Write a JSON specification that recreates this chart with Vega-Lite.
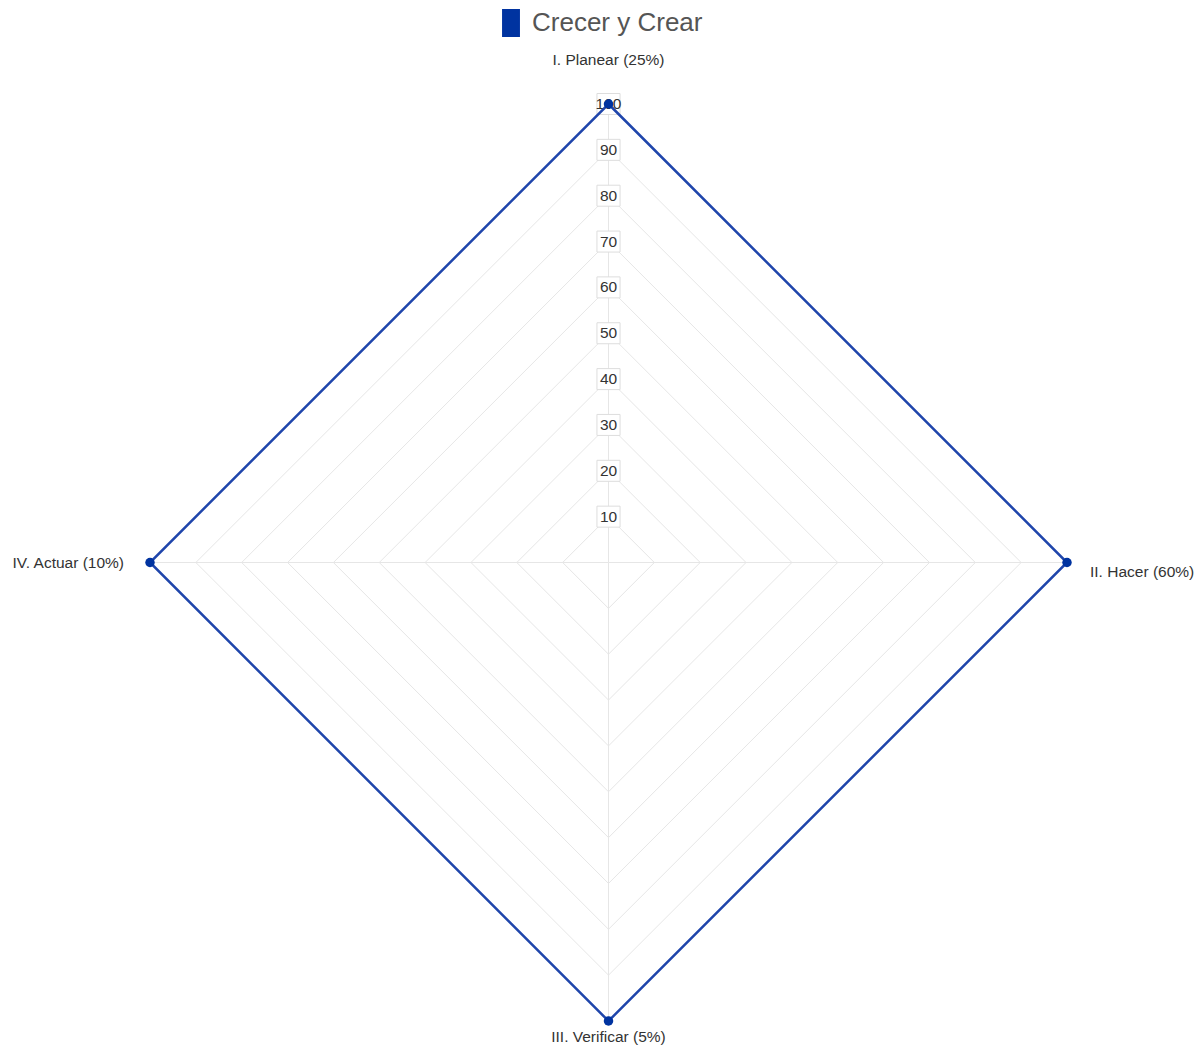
{
  "$schema": "https://vega.github.io/schema/vega-lite/v6.json",
  "width": 917,
  "height": 917,
  "autosize": {"type": "none"},
  "padding": {"left": 150, "top": 104, "right": 137, "bottom": 27},
  "background": "white",
  "config": {"view": {"stroke": null}, "font": "Liberation Sans"},
  "datasets": {
    "axes": [
      {"axis": "I. Planear (25%)", "k": 0, "value": 100, "serie": "Crecer y Crear"},
      {"axis": "II. Hacer (60%)", "k": 1, "value": 100, "serie": "Crecer y Crear"},
      {"axis": "III. Verificar (5%)", "k": 2, "value": 100, "serie": "Crecer y Crear"},
      {"axis": "IV. Actuar (10%)", "k": 3, "value": 100, "serie": "Crecer y Crear"}
    ],
    "levels": [
      {"level": 10}, {"level": 20}, {"level": 30}, {"level": 40}, {"level": 50},
      {"level": 60}, {"level": 70}, {"level": 80}, {"level": 90}, {"level": 100}
    ]
  },
  "layer": [
    {
      "data": {"name": "levels"},
      "transform": [
        {"calculate": "[0,1,2,3]", "as": "ks"},
        {"flatten": ["ks"], "as": ["k"]},
        {"calculate": "datum.level * sin(datum.k * PI / 2)", "as": "gx"},
        {"calculate": "datum.level * cos(datum.k * PI / 2)", "as": "gy"}
      ],
      "mark": {"type": "line", "interpolate": "linear-closed", "stroke": "#e6e6e6", "strokeWidth": 1},
      "encoding": {
        "x": {"field": "gx", "type": "quantitative", "scale": {"domain": [-100, 100], "nice": false, "zero": false}, "axis": null},
        "y": {"field": "gy", "type": "quantitative", "scale": {"domain": [-100, 100], "nice": false, "zero": false}, "axis": null},
        "detail": {"field": "level", "type": "nominal"},
        "order": {"field": "k", "type": "quantitative"}
      }
    },
    {
      "data": {"name": "axes"},
      "transform": [
        {"calculate": "datum.value * sin(datum.k * PI / 2)", "as": "px"},
        {"calculate": "datum.value * cos(datum.k * PI / 2)", "as": "py"},
        {"calculate": "0", "as": "zero"}
      ],
      "mark": {"type": "rule", "stroke": "#e6e6e6", "strokeWidth": 1},
      "encoding": {
        "x": {"field": "zero", "type": "quantitative"},
        "y": {"field": "zero", "type": "quantitative"},
        "x2": {"field": "px"},
        "y2": {"field": "py"}
      }
    },
    {
      "data": {"name": "levels"},
      "transform": [{"calculate": "0", "as": "zero"}],
      "mark": {"type": "point", "shape": "M-1.1,-1L1.1,-1L1.1,1L-1.1,1Z", "size": 441, "filled": true, "fill": "white", "stroke": "#dddddd", "strokeWidth": 1, "opacity": 1},
      "encoding": {
        "x": {"field": "zero", "type": "quantitative"},
        "y": {"field": "level", "type": "quantitative"}
      }
    },
    {
      "data": {"name": "levels"},
      "transform": [{"calculate": "0", "as": "zero"}],
      "mark": {"type": "text", "fontSize": 15.5, "fill": "#333333", "align": "center", "baseline": "middle"},
      "encoding": {
        "x": {"field": "zero", "type": "quantitative"},
        "y": {"field": "level", "type": "quantitative"},
        "text": {"field": "level", "type": "quantitative"}
      }
    },
    {
      "data": {"name": "axes"},
      "transform": [
        {"calculate": "datum.value * sin(datum.k * PI / 2)", "as": "px"},
        {"calculate": "datum.value * cos(datum.k * PI / 2)", "as": "py"}
      ],
      "mark": {"type": "line", "interpolate": "linear-closed", "stroke": "#1f45ab", "strokeWidth": 2.5},
      "encoding": {
        "x": {"field": "px", "type": "quantitative"},
        "y": {"field": "py", "type": "quantitative"},
        "order": {"field": "k", "type": "quantitative"}
      }
    },
    {
      "data": {"name": "axes"},
      "transform": [
        {"calculate": "datum.value * sin(datum.k * PI / 2)", "as": "px"},
        {"calculate": "datum.value * cos(datum.k * PI / 2)", "as": "py"}
      ],
      "mark": {"type": "point", "filled": true, "size": 90, "opacity": 1},
      "encoding": {
        "x": {"field": "px", "type": "quantitative"},
        "y": {"field": "py", "type": "quantitative"},
        "color": {
          "field": "serie", "type": "nominal",
          "scale": {"range": ["#0033a0"]},
          "legend": {
            "title": null, "orient": "none", "legendX": 347, "legendY": -95,
            "symbolType": "M-0.64,-1L0.64,-1L0.64,1L-0.64,1Z", "symbolSize": 784,
            "symbolStrokeWidth": 0, "labelFontSize": 26, "labelColor": "#555555",
            "labelFont": "Liberation Sans", "labelOffset": 7, "labelLimit": 0, "padding": 0
          }
        }
      }
    },
    {
      "data": {"name": "axes"},
      "transform": [
        {"filter": "datum.k == 0"},
        {"calculate": "datum.value * sin(datum.k * PI / 2)", "as": "px"},
        {"calculate": "datum.value * cos(datum.k * PI / 2)", "as": "py"}
      ],
      "mark": {"type": "text", "fontSize": 15.5, "fill": "#333333", "align": "center", "baseline": "middle", "dy": -44},
      "encoding": {
        "x": {"field": "px", "type": "quantitative"},
        "y": {"field": "py", "type": "quantitative"},
        "text": {"field": "axis", "type": "nominal"}
      }
    },
    {
      "data": {"name": "axes"},
      "transform": [
        {"filter": "datum.k == 1"},
        {"calculate": "datum.value * sin(datum.k * PI / 2)", "as": "px"},
        {"calculate": "datum.value * cos(datum.k * PI / 2)", "as": "py"}
      ],
      "mark": {"type": "text", "fontSize": 15.5, "fill": "#333333", "align": "left", "baseline": "middle", "dx": 23, "dy": 9},
      "encoding": {
        "x": {"field": "px", "type": "quantitative"},
        "y": {"field": "py", "type": "quantitative"},
        "text": {"field": "axis", "type": "nominal"}
      }
    },
    {
      "data": {"name": "axes"},
      "transform": [
        {"filter": "datum.k == 2"},
        {"calculate": "datum.value * sin(datum.k * PI / 2)", "as": "px"},
        {"calculate": "datum.value * cos(datum.k * PI / 2)", "as": "py"}
      ],
      "mark": {"type": "text", "fontSize": 15.5, "fill": "#333333", "align": "center", "baseline": "middle", "dy": 16},
      "encoding": {
        "x": {"field": "px", "type": "quantitative"},
        "y": {"field": "py", "type": "quantitative"},
        "text": {"field": "axis", "type": "nominal"}
      }
    },
    {
      "data": {"name": "axes"},
      "transform": [
        {"filter": "datum.k == 3"},
        {"calculate": "datum.value * sin(datum.k * PI / 2)", "as": "px"},
        {"calculate": "datum.value * cos(datum.k * PI / 2)", "as": "py"}
      ],
      "mark": {"type": "text", "fontSize": 15.5, "fill": "#333333", "align": "right", "baseline": "middle", "dx": -26},
      "encoding": {
        "x": {"field": "px", "type": "quantitative"},
        "y": {"field": "py", "type": "quantitative"},
        "text": {"field": "axis", "type": "nominal"}
      }
    }
  ]
}
